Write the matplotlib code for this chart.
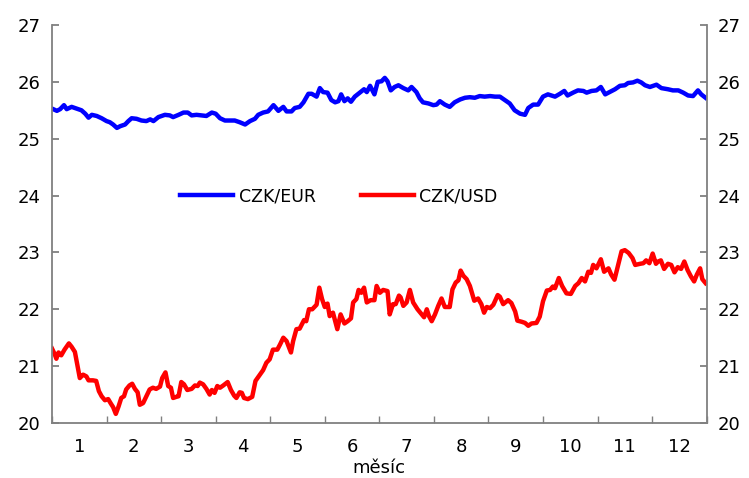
import matplotlib.pyplot as plt
import numpy as np

# month position (0 = start of January) and rate
eur_x = [0.00, 0.09, 0.15, 0.22, 0.27, 0.36, 0.45, 0.54, 0.61, 0.67, 0.73, 0.82,
         0.91, 1.00, 1.06, 1.12, 1.19, 1.25, 1.34, 1.40, 1.46, 1.55, 1.64, 1.73,
         1.80, 1.86, 1.95, 2.07, 2.16, 2.22, 2.32, 2.41, 2.49, 2.56, 2.65, 2.74,
         2.83, 2.93, 3.00, 3.08, 3.17, 3.26, 3.35, 3.44, 3.54, 3.63, 3.72, 3.78,
         3.87, 3.96, 4.06, 4.15, 4.24, 4.30, 4.39, 4.45, 4.54, 4.61, 4.70, 4.76,
         4.85, 4.91, 4.97, 5.05, 5.12, 5.19, 5.25, 5.30, 5.36, 5.42, 5.48, 5.55,
         5.64, 5.72, 5.77, 5.83, 5.91, 5.97, 6.04, 6.10, 6.15, 6.21, 6.28, 6.35,
         6.44, 6.53, 6.59, 6.68, 6.74, 6.80, 6.90, 6.99, 7.05, 7.11, 7.20, 7.29,
         7.38, 7.48, 7.57, 7.66, 7.75, 7.84, 7.93, 8.03, 8.12, 8.21, 8.30, 8.39,
         8.48, 8.58, 8.67, 8.73, 8.82, 8.91, 9.00, 9.09, 9.22, 9.31, 9.39, 9.45,
         9.55, 9.64, 9.74, 9.80, 9.89, 9.98, 10.06, 10.14, 10.22, 10.32, 10.41,
         10.50, 10.56, 10.65, 10.73, 10.80, 10.87, 10.96, 11.08, 11.17, 11.29,
         11.38, 11.48, 11.57, 11.66, 11.75, 11.84, 11.90, 11.98]
eur = [25.53, 25.49, 25.52, 25.59, 25.52, 25.56, 25.53, 25.50, 25.44, 25.37, 25.42, 25.40,
       25.36, 25.31, 25.29, 25.25, 25.19, 25.22, 25.25, 25.31, 25.36, 25.35, 25.32, 25.31,
       25.34, 25.31, 25.38, 25.42, 25.41, 25.38, 25.42, 25.46, 25.46, 25.41, 25.42, 25.41,
       25.40, 25.46, 25.44, 25.36, 25.32, 25.32, 25.32, 25.29, 25.25, 25.31, 25.35, 25.42,
       25.46, 25.48, 25.59, 25.49, 25.56, 25.48, 25.48, 25.54, 25.56, 25.64, 25.79, 25.79,
       25.74, 25.89, 25.82, 25.81, 25.68, 25.64, 25.66, 25.78, 25.66, 25.71, 25.65, 25.74,
       25.81, 25.87, 25.82, 25.93, 25.78, 26.00, 26.01, 26.07, 26.01, 25.85, 25.91, 25.94,
       25.89, 25.85, 25.91, 25.82, 25.71, 25.64, 25.62, 25.59, 25.60, 25.66, 25.60, 25.56,
       25.64, 25.69, 25.72, 25.73, 25.72, 25.75, 25.74, 25.75, 25.74, 25.74, 25.68, 25.62,
       25.50, 25.44, 25.42, 25.54, 25.60, 25.60, 25.74, 25.78, 25.74, 25.79, 25.84, 25.76,
       25.81, 25.85, 25.84, 25.81, 25.84, 25.85, 25.91, 25.78, 25.82, 25.87, 25.93,
       25.94, 25.98, 25.99, 26.02, 25.99, 25.94, 25.91, 25.95, 25.89, 25.87,
       25.85, 25.85, 25.81, 25.76, 25.75, 25.85, 25.78, 25.72]

usd_x = [0.00, 0.05, 0.08, 0.12, 0.17, 0.23, 0.31, 0.36, 0.42, 0.47, 0.51, 0.57,
         0.63, 0.67, 0.75, 0.81, 0.86, 0.91, 0.97, 1.03, 1.08, 1.12, 1.17, 1.22,
         1.27, 1.32, 1.36, 1.42, 1.47, 1.52, 1.57, 1.61, 1.67, 1.73, 1.79, 1.85,
         1.91, 1.98, 2.02, 2.08, 2.13, 2.18, 2.22, 2.28, 2.32, 2.37, 2.42, 2.48,
         2.56, 2.62, 2.67, 2.71, 2.77, 2.83, 2.89, 2.93, 2.98, 3.03, 3.08, 3.14,
         3.22, 3.28, 3.34, 3.38, 3.44, 3.48, 3.52, 3.59, 3.67, 3.73, 3.81, 3.87,
         3.93, 3.99, 4.05, 4.13, 4.18, 4.24, 4.30, 4.38, 4.42, 4.48, 4.54, 4.62,
         4.66, 4.71, 4.77, 4.85, 4.90, 4.95, 5.00, 5.05, 5.09, 5.15, 5.23, 5.29,
         5.36, 5.42, 5.48, 5.52, 5.58, 5.62, 5.67, 5.72, 5.77, 5.84, 5.91, 5.95,
         6.01, 6.07, 6.15, 6.19, 6.25, 6.30, 6.36, 6.39, 6.44, 6.50, 6.56, 6.62,
         6.70, 6.77, 6.82, 6.87, 6.91, 6.96, 7.02, 7.08, 7.14, 7.20, 7.29, 7.34,
         7.40, 7.45, 7.49, 7.54, 7.60, 7.66, 7.74, 7.81, 7.87, 7.92, 7.97, 8.03,
         8.09, 8.17, 8.21, 8.27, 8.36, 8.42, 8.49, 8.53, 8.61, 8.67, 8.73, 8.79,
         8.88, 8.94, 9.00, 9.07, 9.13, 9.18, 9.22, 9.29, 9.35, 9.43, 9.51, 9.59,
         9.65, 9.71, 9.77, 9.83, 9.88, 9.92, 9.98, 10.06, 10.12, 10.20, 10.25,
         10.31, 10.37, 10.44, 10.50, 10.57, 10.64, 10.69, 10.78, 10.84, 10.89,
         10.95, 11.01, 11.07, 11.11, 11.16, 11.22, 11.29, 11.35, 11.41, 11.47,
         11.53, 11.59, 11.65, 11.71, 11.77, 11.82, 11.88, 11.92, 11.98]
usd = [21.31, 21.21, 21.13, 21.24, 21.19, 21.29, 21.40, 21.34, 21.25, 21.00, 20.79, 20.85,
       20.82, 20.75, 20.75, 20.74, 20.56, 20.47, 20.40, 20.42, 20.34, 20.28, 20.16, 20.29,
       20.44, 20.47, 20.59, 20.66, 20.69, 20.60, 20.54, 20.32, 20.35, 20.47, 20.59, 20.62,
       20.60, 20.64, 20.79, 20.89, 20.65, 20.62, 20.44, 20.46, 20.47, 20.72, 20.68, 20.58,
       20.60, 20.66, 20.65, 20.71, 20.68, 20.60, 20.50, 20.58, 20.53, 20.65, 20.62, 20.66,
       20.72, 20.58, 20.48, 20.44, 20.54, 20.53, 20.44, 20.42, 20.46, 20.74, 20.85, 20.93,
       21.06, 21.12, 21.29, 21.29, 21.38, 21.50, 21.44, 21.24, 21.44, 21.65, 21.66, 21.81,
       21.79, 22.00, 22.00, 22.08, 22.38, 22.18, 22.04, 22.10, 21.88, 21.94, 21.65, 21.91,
       21.75, 21.79, 21.84, 22.12, 22.18, 22.34, 22.29, 22.38, 22.12, 22.16, 22.16, 22.41,
       22.29, 22.34, 22.32, 21.91, 22.09, 22.09, 22.24, 22.21, 22.06, 22.12, 22.34, 22.12,
       22.00, 21.92, 21.86, 22.00, 21.88, 21.79, 21.91, 22.06, 22.19, 22.04, 22.04, 22.35,
       22.47, 22.51, 22.68, 22.59, 22.53, 22.41, 22.15, 22.19, 22.09, 21.94, 22.04, 22.02,
       22.08, 22.25, 22.22, 22.09, 22.16, 22.11, 21.96, 21.80, 21.78, 21.76, 21.71, 21.75,
       21.76, 21.87, 22.14, 22.33, 22.34, 22.40, 22.37, 22.55, 22.41, 22.28, 22.27, 22.41,
       22.46, 22.55, 22.49, 22.66, 22.64, 22.78, 22.72, 22.88, 22.66, 22.72, 22.61,
       22.52, 22.75, 23.02, 23.04, 22.99, 22.90, 22.78, 22.80, 22.81, 22.86,
       22.81, 22.98, 22.80, 22.84, 22.86, 22.71, 22.80, 22.78, 22.65, 22.74,
       22.71, 22.84, 22.69, 22.58, 22.49, 22.61, 22.72, 22.53, 22.46]

month_labels = [str(m) for m in range(1, 13)]

fig = plt.figure(figsize=(7.49, 4.78), dpi=100)
ax = fig.add_axes([0.0694, 0.1151, 0.8741, 0.8326])

ax.plot(eur_x, eur, color="#0000ff", lw=3.2, label="CZK/EUR", solid_joinstyle="round")
ax.plot(usd_x, usd, color="#ff0000", lw=3.2, label="CZK/USD", solid_joinstyle="round")

ax.set_xlim(0, 12)
ax.set_ylim(20, 27)

ax.set_xticks(np.arange(0, 13))
ax.set_xticklabels([])
ax.set_xticks(np.arange(0.5, 12), minor=True)
ax.set_xticklabels(month_labels, minor=True)
ax.set_yticks(np.arange(20, 28))

gray = "#808080"
for side in ["left", "right", "bottom"]:
    ax.spines[side].set_color(gray)
    ax.spines[side].set_linewidth(1.3)
ax.spines["top"].set_visible(False)

ax.tick_params(axis="x", which="major", direction="in", length=5, color=gray, width=1)
ax.tick_params(axis="x", which="minor", length=0, labelsize=13, pad=11)
ax.tick_params(axis="y", direction="in", length=5, color=gray, width=1.3,
               labelsize=13, right=True, labelright=True, pad=8)

ax.set_xlabel("měsíc", fontsize=13, labelpad=2)

ax.legend(loc="center", bbox_to_anchor=(0.438, 0.57), ncol=2, frameon=False,
          fontsize=12.5, handlelength=3.05, columnspacing=2.6, handletextpad=0.3)

fig.savefig("out.png", dpi=100)
